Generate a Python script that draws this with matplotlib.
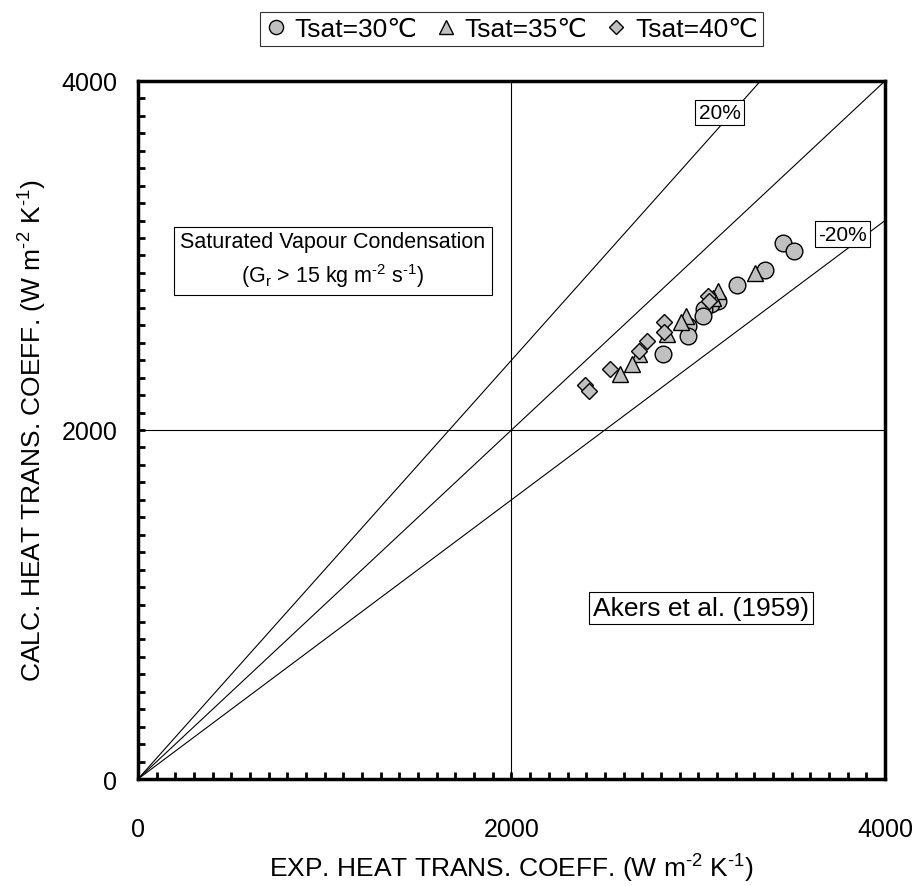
#!/usr/bin/env python3

import matplotlib
matplotlib.use('Agg')
import matplotlib.pyplot as plt
from matplotlib.ticker import MultipleLocator
import numpy as np

plt.rcParams['font.family'] = ['Liberation Sans', 'DejaVu Sans']
plt.rcParams['mathtext.fontset'] = 'custom'
plt.rcParams['mathtext.rm'] = 'Liberation Sans'
plt.rcParams['mathtext.it'] = 'Liberation Sans:italic'

# data (W m-2 K-1)
exp_30 = [3455, 3514, 3356, 3209, 3105, 3069, 3033, 3024, 2943, 2943, 2809]
calc_30 = [3071, 3023, 2919, 2828, 2739, 2720, 2691, 2653, 2596, 2539, 2435]
exp_35 = [3302, 3105, 3078, 2934, 2907, 2835, 2683, 2647, 2580]
calc_35 = [2900, 2796, 2758, 2653, 2616, 2549, 2435, 2378, 2321]
exp_40 = [3051, 3060, 2817, 2817, 2728, 2683, 2530, 2396, 2414]
calc_40 = [2767, 2739, 2616, 2559, 2511, 2454, 2350, 2255, 2226]

series_labels = ['Tsat=30\u2103', 'Tsat=35\u2103', 'Tsat=40\u2103']
band_factors = [1.2, 1.0, 0.8]

fig = plt.figure(figsize=(9.15, 8.87), dpi=100)
ax = fig.add_axes([0.1508, 0.1206, 0.8164, 0.787])

lim = 4000
xx = np.array([0, lim])
for f in band_factors:
    ax.plot(xx, f * xx, color='black', linewidth=0.8, zorder=2)

ax.axvline(2000, color='black', linewidth=0.8, zorder=1)
ax.axhline(2000, color='black', linewidth=0.8, zorder=1)

mkw = dict(linestyle='none', markerfacecolor='#c0c0c0',
           markeredgecolor='black', markeredgewidth=1.0, zorder=3)
h1, = ax.plot(exp_30, calc_30, 'o', markersize=12, label=series_labels[0], **mkw)
h2, = ax.plot(exp_35, calc_35, '^', markersize=12, label=series_labels[1], **mkw)
h3, = ax.plot(exp_40, calc_40, 'D', markersize=8.5, label=series_labels[2], **mkw)

box = dict(boxstyle='square,pad=0.15', facecolor='white', edgecolor='black', linewidth=0.8)
ax.text(3114, 3819, '20%', fontsize=15, ha='center', va='center', bbox=box, zorder=4)
ax.text(3772, 3123, '-20%', fontsize=15, ha='center', va='center', bbox=box, zorder=4)
ax.text(1044, 2974,
        'Saturated Vapour Condensation\n'
        '(G$_\\mathrm{r}$ > 15 kg m$^{\\text{-}2}$ s$^{\\text{-}1}$)',
        fontsize=15.5, ha='center', va='center', multialignment='center',
        linespacing=1.4,
        bbox=dict(boxstyle='square,pad=0.3', facecolor='white', edgecolor='black', linewidth=0.8),
        zorder=4)
ax.text(3017, 980, 'Akers et al. (1959)', fontsize=19, ha='center', va='center',
        bbox=dict(boxstyle='square,pad=0.15', facecolor='white', edgecolor='black', linewidth=0.8),
        zorder=4)

ax.set_xlim(0, lim)
ax.set_ylim(0, lim)
ax.xaxis.set_major_locator(MultipleLocator(2000))
ax.yaxis.set_major_locator(MultipleLocator(2000))
ax.xaxis.set_minor_locator(MultipleLocator(100))
ax.yaxis.set_minor_locator(MultipleLocator(100))
ax.tick_params(which='both', direction='in', width=2, length=5, labelsize=18)
ax.tick_params(axis='x', pad=27)
ax.tick_params(axis='y', pad=15)
for s in ax.spines.values():
    s.set_linewidth(2.5)

ax.set_xlabel('EXP. HEAT TRANS. COEFF. (W m$^{\\text{-}2}$ K$^{\\text{-}1}$)', fontsize=19)
ax.set_ylabel('CALC. HEAT TRANS. COEFF. (W m$^{\\text{-}2}$ K$^{\\text{-}1}$)', fontsize=19)
ax.xaxis.set_label_coords(0.5, -0.127)
ax.xaxis.label.set_va('center')
ax.yaxis.set_label_coords(-0.141, 0.5)
ax.yaxis.label.set_va('center')

leg = fig.legend(handles=[h1, h2, h3], loc='center', bbox_to_anchor=(0.559, 0.966),
                 ncol=3, fontsize=19, frameon=True, fancybox=False,
                 handlelength=0.8, handletextpad=0.3, columnspacing=0.7,
                 borderpad=0.2, borderaxespad=0, markerscale=0.85)
leg.get_frame().set_edgecolor('black')
leg.get_frame().set_linewidth(0.8)

fig.savefig('out.png', dpi=100)
